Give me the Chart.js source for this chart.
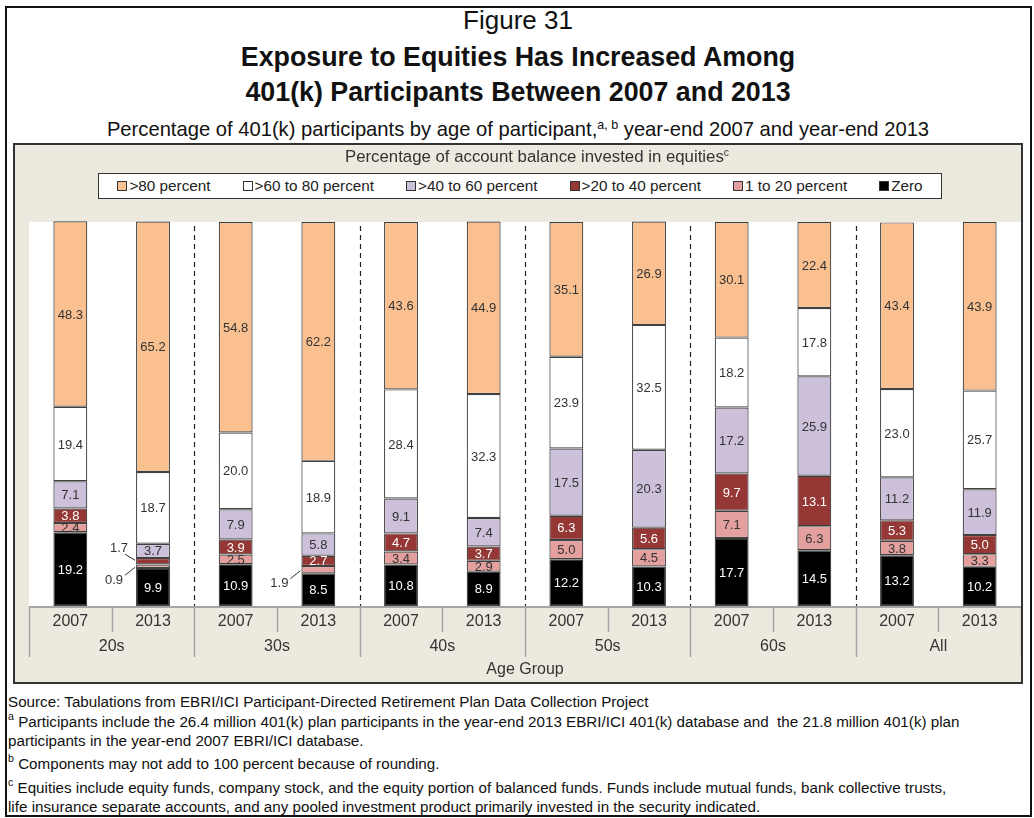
<!DOCTYPE html>
<html><head><meta charset="utf-8">
<script src="https://cdn.jsdelivr.net/npm/chart.js@4.4.0/dist/chart.umd.min.js"></script>
<style>
body{margin:0;background:#fff;font-family:"Liberation Sans",Arial,sans-serif;color:#111;width:1034px;height:818px;overflow:hidden;position:relative;}
#frame{position:absolute;left:5px;top:6px;width:1027px;height:811px;border:2px solid #111;box-sizing:border-box;}
.t{position:absolute;left:0;width:1036px;text-align:center;white-space:nowrap;color:#111;}
#panel{position:absolute;left:13px;top:143px;width:1010px;height:541px;border:2px solid #333;box-sizing:border-box;background:#ECE9DF;}
#chartwrap{position:absolute;left:0;top:0;width:1006px;height:537px;}
#legtitle{position:absolute;left:330px;top:2px;text-align:left;font-size:16.8px;line-height:20px;color:#333;white-space:nowrap;}
#legend{position:absolute;left:83px;top:28px;width:844px;height:26px;border:1.5px solid #333;background:#fff;display:flex;justify-content:center;align-items:center;gap:32px;font-size:15.3px;color:#222;box-sizing:border-box;white-space:nowrap;}
#legend .item{display:flex;align-items:center;}
#legend .sw{width:8px;height:8px;border:1px solid #333;margin-right:2px;display:inline-block;}
.foot{position:absolute;left:8px;font-size:15.2px;line-height:18px;white-space:nowrap;color:#111;}
sup{font-size:0.62em;line-height:0;vertical-align:0.55em;}
.foot sup{font-size:0.7em;vertical-align:0.65em;}
</style></head>
<body>
<div id="frame"></div>
<div class="t" style="top:5px;font-size:26px;line-height:30px;">Figure 31</div>
<div class="t" style="top:42px;font-size:26.8px;line-height:30px;font-weight:bold;">Exposure to Equities Has Increased Among</div>
<div class="t" style="top:77px;font-size:26.8px;line-height:30px;font-weight:bold;">401(k) Participants Between 2007 and 2013</div>
<div class="t" style="top:118px;font-size:20.2px;line-height:22px;">Percentage of 401(k) participants by age of participant,<sup>a, b</sup> year-end 2007 and year-end 2013</div>
<div id="panel">
  <div id="chartwrap"><canvas id="c" width="1006" height="537"></canvas></div>
  <div id="legtitle">Percentage of account balance invested in equities<sup>c</sup></div>
  <div id="legend"></div>
</div>
<div class="foot" style="top:693px;">Source: Tabulations from EBRI/ICI Participant-Directed Retirement Plan Data Collection Project</div>
<div class="foot" style="top:713px;"><sup>a</sup> Participants include the 26.4 million 401(k) plan participants in the year-end 2013 EBRI/ICI 401(k) database and&nbsp; the 21.8 million 401(k) plan</div>
<div class="foot" style="top:732px;">participants in the year-end 2007 EBRI/ICI database.</div>
<div class="foot" style="top:755px;"><sup>b</sup> Components may not add to 100 percent because of rounding.</div>
<div class="foot" style="top:779px;"><sup>c</sup> Equities include equity funds, company stock, and the equity portion of balanced funds. Funds include mutual funds, bank collective trusts,</div>
<div class="foot" style="top:798px;">life insurance separate accounts, and any pooled investment product primarily invested in the security indicated.</div>
<script>
// ---- data ----
const categories = ['2007','2013','2007','2013','2007','2013','2007','2013','2007','2013','2007','2013'];
const groups = ['20s','30s','40s','50s','60s','All'];
const axisTitle = 'Age Group';
const seriesNames = ['Zero','1 to 20 percent','>20 to 40 percent','>40 to 60 percent','>60 to 80 percent','>80 percent'];
const zero     = [19.2, 9.9, 10.9, 8.5, 10.8, 8.9, 12.2, 10.3, 17.7, 14.5, 13.2, 10.2];
const p1to20   = [2.4, 0.9, 2.5, 1.9, 3.4, 2.9, 5.0, 4.5, 7.1, 6.3, 3.8, 3.3];
const p20to40  = [3.8, 1.7, 3.9, 2.7, 4.7, 3.7, 6.3, 5.6, 9.7, 13.1, 5.3, 5.0];
const p40to60  = [7.1, 3.7, 7.9, 5.8, 9.1, 7.4, 17.5, 20.3, 17.2, 25.9, 11.2, 11.9];
const p60to80  = [19.4, 18.7, 20.0, 18.9, 28.4, 32.3, 23.9, 32.5, 18.2, 17.8, 23.0, 25.7];
const p80      = [48.3, 65.2, 54.8, 62.2, 43.6, 44.9, 35.1, 26.9, 30.1, 22.4, 43.4, 43.9];
const seriesValues = [zero, p1to20, p20to40, p40to60, p60to80, p80];
const seriesColors = ['#000000','#E3A09E','#953735','#CCC0DA','#FFFFFF','#FAC090'];
const labelColors  = ['#FFFFFF','#333333','#FFFFFF','#333333','#333333','#333333'];

// ---- legend (html), reverse order ----
const leg = document.getElementById('legend');
for (let i = seriesNames.length - 1; i >= 0; i--) {
  const it = document.createElement('div'); it.className = 'item';
  const sw = document.createElement('span'); sw.className = 'sw'; sw.style.background = seriesColors[i];
  it.appendChild(sw); it.appendChild(document.createTextNode(seriesNames[i]));
  leg.appendChild(it);
}

const FONT = '"Liberation Sans", Arial, sans-serif';

const bgPlugin = {
  id: 'bg',
  beforeDraw(chart) {
    const {ctx, chartArea: a} = chart;
    ctx.save(); ctx.fillStyle = '#FFFFFF';
    ctx.fillRect(a.left, a.top, a.right - a.left, a.bottom - a.top);
    ctx.restore();
  }
};

const axisPlugin = {
  id: 'groupAxis',
  afterDraw(chart) {
    const {ctx, chartArea: a} = chart;
    const xs = chart.scales.x;
    const w = xs.getPixelForValue(1) - xs.getPixelForValue(0);
    const left = xs.getPixelForValue(0) - w / 2;
    ctx.save();
    // dashed separators in plot
    ctx.strokeStyle = '#222'; ctx.lineWidth = 1.2; ctx.setLineDash([5, 4]);
    for (let g = 1; g < groups.length; g++) {
      const bx = Math.round(left + g * 2 * w) + 0.5;
      ctx.beginPath(); ctx.moveTo(bx, a.top + 4); ctx.lineTo(bx, a.bottom); ctx.stroke();
    }
    ctx.setLineDash([]);
    // axis line
    ctx.strokeStyle = '#A6A6A6'; ctx.lineWidth = 2;
    ctx.beginPath(); ctx.moveTo(a.left, a.bottom + 1); ctx.lineTo(a.right, a.bottom + 1); ctx.stroke();
    // ticks
    ctx.lineWidth = 1.5;
    for (let i = 0; i <= categories.length; i++) {
      const bx = Math.round(left + i * w) + 0.5;
      const len = (i % 2 === 0) ? 51 : 26;
      ctx.beginPath(); ctx.moveTo(bx, a.bottom); ctx.lineTo(bx, a.bottom + len); ctx.stroke();
    }
    ctx.fillStyle = '#333'; ctx.textAlign = 'center'; ctx.textBaseline = 'middle';
    ctx.font = '16px ' + FONT;
    categories.forEach((c, i) => ctx.fillText(c, xs.getPixelForValue(i), a.bottom + 16));
    groups.forEach((g, k) => ctx.fillText(g, left + (k * 2 + 1) * w, a.bottom + 41));
    ctx.fillText(axisTitle, (a.left + a.right) / 2, a.bottom + 64);
    ctx.restore();
  }
};

const labelPlugin = {
  id: 'valueLabels',
  afterDatasetsDraw(chart) {
    const ctx = chart.ctx;
    ctx.save();
    ctx.font = '13px ' + FONT; ctx.textAlign = 'center'; ctx.textBaseline = 'middle';
    chart.data.datasets.forEach((ds, di) => {
      const meta = chart.getDatasetMeta(di);
      meta.data.forEach((bar, i) => {
        const v = ds.data[i];
        const segY = (bar.y + bar.base) / 2;
        const txt = v.toFixed(1);
        if (v < 2) {
          const bl = bar.x - bar.width / 2;
          ctx.strokeStyle = '#333'; ctx.lineWidth = 1;
          ctx.fillStyle = '#333';
          if (di === 1) {
            ctx.beginPath(); ctx.moveTo(bl - 11, segY + 9); ctx.lineTo(bl - 1, segY + 1); ctx.stroke();
            ctx.fillText(txt, bl - 22, segY + 14);
          } else {
            ctx.beginPath(); ctx.moveTo(bl - 11, segY - 7); ctx.lineTo(bl - 1, segY - 1); ctx.stroke();
            ctx.fillText(txt, bl - 17, segY - 13);
          }
        } else {
          ctx.fillStyle = labelColors[di];
          ctx.fillText(txt, bar.x, segY + 1);
        }
      });
    });
    ctx.restore();
  }
};

new Chart(document.getElementById('c'), {
  type: 'bar',
  data: {
    labels: categories,
    datasets: seriesNames.map((n, i) => ({
      label: n,
      data: seriesValues[i],
      backgroundColor: seriesColors[i],
      borderColor: '#404040',
      borderWidth: 1.2,
      borderSkipped: false,
      categoryPercentage: 1,
      barPercentage: 0.41,
      clip: false
    }))
  },
  options: {
    responsive: false,
    animation: false,
    layout: { padding: { left: 14, right: 0, top: 77, bottom: 76 } },
    plugins: { legend: { display: false }, tooltip: { enabled: false }, title: { display: false } },
    scales: {
      x: { stacked: true, display: false },
      y: { stacked: true, display: false, min: 0, max: 100 }
    }
  },
  plugins: [bgPlugin, axisPlugin, labelPlugin]
});
</script>
</body></html>
